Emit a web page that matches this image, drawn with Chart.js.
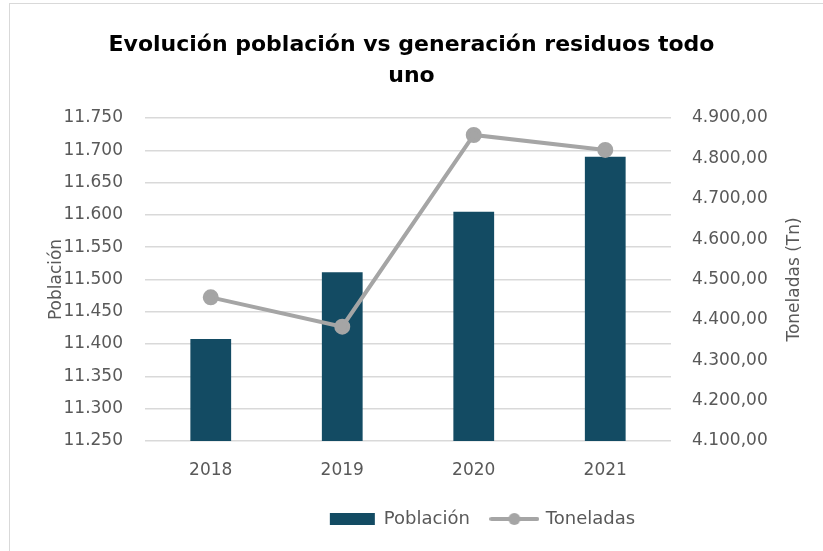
<!DOCTYPE html>
<html>
<head>
<meta charset="utf-8">
<script src="https://cdn.jsdelivr.net/npm/chart.js@4"></script>
<style>
  body { margin: 0; background: #fff; }
  #wrap { position: relative; width: 823px; height: 551px; overflow: hidden; }
  #frame { position: absolute; left: 9px; top: 3px; width: 830px; height: 560px; border: 1px solid #d9d9d9; pointer-events: none; }
</style>
</head>
<body>
<div id="wrap">
  <canvas id="myChart" width="823" height="551"></canvas>
  <div id="frame"></div>
</div>
<script>
let years = ["2018", "2019", "2020", "2021"];
let poblacion = [11408, 11511, 11605, 11690];
let toneladas = [4455.7, 4383.0, 4858.0, 4821.0];

let fuente = "'DejaVu Sans', sans-serif";
let gris = "#595959";

// numero al estilo es-ES con punto de miles
function formato(v, dec) {
  let partes = v.toFixed(dec).split(".");
  let ent = partes[0].replace(/\B(?=(\d{3})+(?!\d))/g, ".");
  return dec > 0 ? ent + "," + partes[1] : ent;
}

// icono de leyenda: linea con punto
function iconoLinea() {
  let c = document.createElement("canvas");
  c.width = 50;
  c.height = 14;
  let ctx = c.getContext("2d");
  ctx.strokeStyle = "#a5a5a5";
  ctx.lineWidth = 4;
  ctx.lineCap = "round";
  ctx.beginPath();
  ctx.moveTo(2, 7);
  ctx.lineTo(48, 7);
  ctx.stroke();
  ctx.fillStyle = "#a5a5a5";
  ctx.beginPath();
  ctx.arc(25, 7, 6, 0, Math.PI * 2);
  ctx.fill();
  return c;
}
let icono = iconoLinea();

// titulo del eje derecho girado como en excel (de abajo a arriba)
let tituloDerecho = {
  id: "tituloDerecho",
  afterLayout: function(ch) {
    // la leyenda de excel queda desplazada a la derecha
    ch.legend.left += 71;
    ch.legend.right += 71;
  },
  afterDraw: function(ch) {
    let ctx = ch.ctx;
    let a = ch.chartArea;
    ctx.save();
    ctx.translate(795, (a.top + a.bottom) / 2);
    ctx.rotate(-Math.PI / 2);
    ctx.fillStyle = gris;
    ctx.font = "17px " + fuente;
    ctx.textAlign = "center";
    ctx.textBaseline = "middle";
    ctx.fillText("Toneladas (Tn)", 0, 0);
    ctx.restore();
  }
};

let chart = new Chart("myChart", {
  data: {
    labels: years,
    datasets: [
      {
        type: "line",
        label: "Toneladas",
        data: toneladas,
        yAxisID: "y2",
        borderColor: "#a5a5a5",
        backgroundColor: "#a5a5a5",
        borderWidth: 4,
        pointRadius: 6,
        pointHoverRadius: 6,
        fill: false,
        order: 0
      },
      {
        type: "bar",
        label: "Población",
        data: poblacion,
        yAxisID: "y",
        backgroundColor: "#134b63",
        categoryPercentage: 1,
        barPercentage: 0.31,
        order: 1
      }
    ]
  },
  plugins: [tituloDerecho],
  options: {
    responsive: false,
    animation: false,
    layout: { padding: { top: 20, bottom: 13, left: 0, right: 0 } },
    plugins: {
      title: {
        display: true,
        text: ["Evolución población vs generación residuos todo", "uno"],
        color: "#000",
        font: { family: fuente, size: 22, weight: "bold", lineHeight: 1.41 },
        padding: { top: 10, bottom: 26 }
      },
      legend: {
        position: "bottom",
        reverse: true,
        labels: {
          color: gris,
          font: { family: fuente, size: 18 },
          usePointStyle: true,
          pointStyleWidth: 45,
          boxHeight: 12,
          padding: 22,
          generateLabels: function(ch) {
            let items = Chart.defaults.plugins.legend.labels.generateLabels(ch);
            items.forEach(function(it) {
              if (it.text == "Toneladas") {
                it.pointStyle = icono;
              } else {
                it.pointStyle = "rect";
              }
              it.lineWidth = 0;
            });
            return items;
          }
        }
      },
      tooltip: { enabled: false }
    },
    scales: {
      x: {
        grid: { display: false },
        border: { display: false },
        ticks: { color: gris, font: { family: fuente, size: 17 }, padding: 11 },
        afterFit: function(s) { s.height = 47.1; }
      },
      y: {
        position: "left",
        min: 11250,
        max: 11750,
        border: { display: false },
        grid: { color: "#d9d9d9", lineWidth: 1.5, drawTicks: false },
        ticks: {
          stepSize: 50,
          color: gris,
          font: { family: fuente, size: 17 },
          padding: 22,
          callback: function(v) { return formato(v, 0); }
        },
        title: {
          display: true,
          text: "Población",
          color: gris,
          font: { family: fuente, size: 17 },
          padding: 46
        },
        afterFit: function(s) { s.width = 145; }
      },
      y2: {
        position: "right",
        min: 4100,
        max: 4900,
        border: { display: false },
        grid: { display: false, drawTicks: false },
        ticks: {
          stepSize: 100,
          color: gris,
          font: { family: fuente, size: 17 },
          padding: 21,
          callback: function(v) { return formato(v, 2); }
        },
        afterFit: function(s) { s.width = 152; }
      }
    }
  }
});
</script>
</body>
</html>
